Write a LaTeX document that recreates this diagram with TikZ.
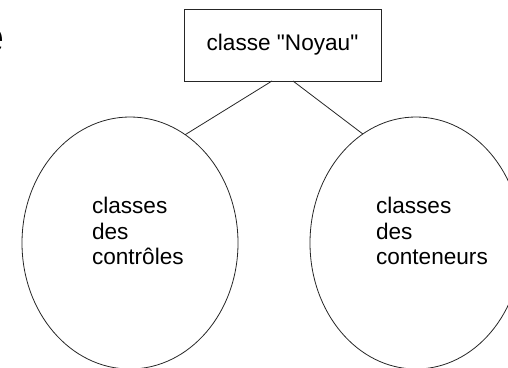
\documentclass[tikz,border=0pt]{standalone}
\usepackage{fontspec}
\setmainfont{Liberation Sans}
\usetikzlibrary{shapes.geometric,calc}
\begin{document}
\begin{tikzpicture}[x=1pt,y=-1pt,
  line/.style={draw=black!85,line width=0.8pt},
  boxnode/.style={line,rectangle,minimum width=197pt,minimum height=72pt,inner sep=0pt,outer sep=0pt,
    font=\fontsize{22.6}{25.5}\selectfont},
  ellnode/.style={line,ellipse,inner sep=0pt,outer sep=0pt,minimum height=252pt},
  label/.style={inner sep=0pt,outer sep=0pt,align=left,anchor=north west,
    font=\fontsize{22.6}{25.5}\selectfont}]
\useasboundingbox (0,0) rectangle (508,367);
\node[inner sep=0pt,anchor=base west,font=\fontsize{45}{50}\selectfont] (frag) at (-21,52) {e};
\node[boxnode] (noyau) at (282.5,45) {classe \textquotedbl Noyau\textquotedbl};
\node[ellnode,minimum width=216pt] (ctrl) at (130,243) {};
\node[ellnode,minimum width=212pt] (cont) at (416,243) {};
\node[label] (tctrl) at (92,197.5) {classes\\des\\contrôles};
\node[label] (tcont) at (376,197.5) {classes\\des\\conteneurs};
\coordinate (sl) at ($(noyau.south)+(-10.5,0)$);
\coordinate (sr) at ($(noyau.south)+(10.5,0)$);
\draw[line] (sl) -- (ctrl.63);
\draw[line] (sr) -- (cont.116);
\end{tikzpicture}
\end{document}
